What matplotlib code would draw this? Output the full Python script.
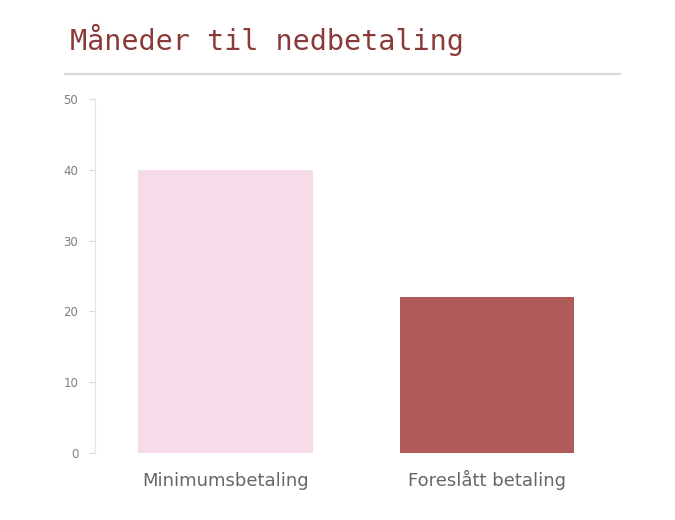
import matplotlib
matplotlib.use("Agg")
import matplotlib.pyplot as plt
from matplotlib.lines import Line2D

categories = ["Minimumsbetaling", "Foreslått betaling"]
values = [40, 22]
colors = ["#F5DCE8", "#B05A5A"]
yticks = [0, 10, 20, 30, 40, 50]
title = "Måneder til nedbetaling"

fig = plt.figure(figsize=(6.75, 5.2), dpi=100)
ax = fig.add_axes([0.1407, 0.1288, 0.7743, 0.6808])

x = list(range(len(categories)))
ax.bar(x, values, width=0.667, color=colors)
ax.set_xlim(-0.5, len(categories) - 0.5)
ax.set_ylim(0, 50)
ax.set_yticks(yticks)
ax.set_xticks(x)
ax.set_xticklabels(categories, fontsize=13, color="#666666", va="baseline")
ax.tick_params(axis="x", length=0, pad=23.5)
ax.tick_params(axis="y", length=4, width=0.8, color="#D9D9D9", labelsize=8.5,
               labelcolor="#7F7F7F", pad=8)
for s in ["top", "right", "bottom"]:
    ax.spines[s].set_visible(False)
ax.spines["left"].set_color("#E3E3E3")
ax.spines["left"].set_linewidth(0.8)

fig.text(70 / 675, 1 - 40 / 520, title, family="DejaVu Sans Mono", fontsize=20.5,
         color="#8B3A3A", va="center", ha="left")
fig.add_artist(Line2D([65 / 675, 620 / 675], [1 - 74 / 520, 1 - 74 / 520],
                      color="#D9D9D9", linewidth=1.5, transform=fig.transFigure))

fig.savefig("out.png", dpi=100)
